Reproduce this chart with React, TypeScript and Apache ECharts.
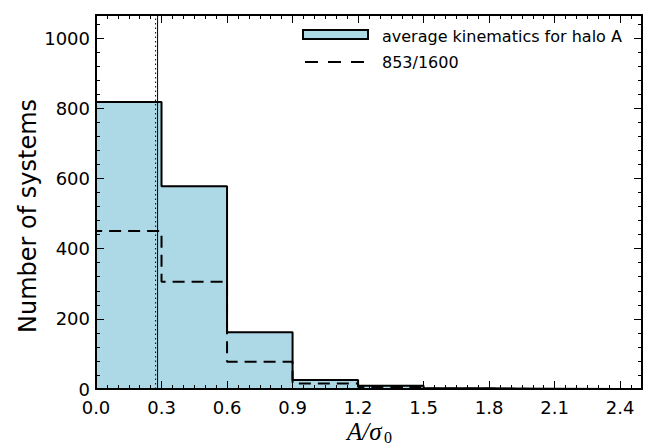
import React, { useEffect, useRef } from "react";
import * as echarts from "echarts";

// ---- data ----
const binEdges = [0, 0.3, 0.6, 0.9, 1.2, 1.5, 1.8, 2.1, 2.4];
const avgCounts = [818, 578, 162, 26, 9, 2, 1, 0];
const subsetCounts = [450, 306, 78, 16, 6, 1, 0, 0];
const solidLineX = 0.282;
const dottedLineX = 0.273;
const xTickLabels = ["0.0", "0.3", "0.6", "0.9", "1.2", "1.5", "1.8", "2.1", "2.4"];
const yTickLabels = ["0", "200", "400", "600", "800", "1000"];
const legendLabels = ["average kinematics for halo A", "853/1600"];
const yTitle = "Number of systems";
const xTitleMain = "A/σ";
const xTitleSub = "0";

const X_MIN = 0;
const X_MAX = 2.5;
const Y_MIN = 0;
const Y_MAX = 1066;

const FONT = "DejaVu Sans";

function stepPoints(edges: number[], counts: number[]): number[][] {
  const pts: number[][] = [[edges[0], 0]];
  for (let i = 0; i < counts.length; i++) {
    pts.push([edges[i], counts[i]]);
    pts.push([edges[i + 1], counts[i]]);
  }
  pts.push([edges[counts.length], 0]);
  return pts;
}

function xAxisDef(position: "bottom" | "top", major: boolean, withLabels: boolean) {
  return {
    type: "value",
    min: X_MIN,
    max: X_MAX,
    position,
    interval: major ? 0.3 : 0.05,
    z: 5,
    axisLine: {
      show: major,
      onZero: false,
      lineStyle: { color: "#000", width: 2 },
    },
    axisTick: {
      show: true,
      inside: true,
      length: major ? 8 : 4,
      lineStyle: { color: "#000", width: 1 },
    },
    splitLine: { show: false },
    axisLabel: withLabels
      ? {
          show: true,
          color: "#000",
          fontSize: 18,
          lineHeight: 16,
          fontFamily: FONT,
          margin: 10,
          showMaxLabel: false,
          formatter: (v: number) => {
            const idx = Math.round(v / 0.3);
            return xTickLabels[idx] ?? v.toFixed(1);
          },
        }
      : { show: false },
  };
}

function yAxisDef(position: "left" | "right", major: boolean, withLabels: boolean) {
  return {
    type: "value",
    min: Y_MIN,
    max: Y_MAX,
    position,
    interval: major ? 200 : 40,
    z: 5,
    axisLine: {
      show: major,
      onZero: false,
      lineStyle: { color: "#000", width: 2 },
    },
    axisTick: {
      show: true,
      inside: true,
      length: major ? 8 : 4,
      lineStyle: { color: "#000", width: 1 },
    },
    splitLine: { show: false },
    axisLabel: withLabels
      ? {
          show: true,
          color: "#000",
          fontSize: 18,
          lineHeight: 16,
          fontFamily: FONT,
          margin: 6,
          showMaxLabel: false,
          formatter: (v: number) => {
            const idx = Math.round(v / 200);
            return yTickLabels[idx] ?? String(v);
          },
        }
      : { show: false },
  };
}

export default function App() {
  const ref = useRef<HTMLDivElement>(null);

  useEffect(() => {
    if (!ref.current) return;
    const chart = echarts.init(ref.current, null, { renderer: "svg" });

    const option: any = {
      animation: false,
      backgroundColor: "#fff",
      grid: {
        left: 96,
        right: 10,
        top: 15,
        bottom: 57,
        outerBoundsMode: "none",
        containLabel: false,
      },
      xAxis: [
        xAxisDef("bottom", true, true),
        xAxisDef("bottom", false, false),
        xAxisDef("top", true, false),
        xAxisDef("top", false, false),
      ],
      yAxis: [
        yAxisDef("left", true, true),
        yAxisDef("left", false, false),
        yAxisDef("right", true, false),
        yAxisDef("right", false, false),
      ],
      series: [
        {
          type: "line",
          name: legendLabels[0],
          xAxisIndex: 0,
          yAxisIndex: 0,
          data: stepPoints(binEdges, avgCounts),
          symbol: "none",
          lineStyle: { color: "#000", width: 2 },
          areaStyle: { color: "#add8e6", opacity: 1 },
          z: 2,
        },
        {
          type: "line",
          name: legendLabels[1],
          xAxisIndex: 0,
          yAxisIndex: 0,
          data: stepPoints(binEdges, subsetCounts),
          symbol: "none",
          lineStyle: { color: "#000", width: 2, type: [12, 7] },
          z: 3,
        },
        {
          type: "line",
          xAxisIndex: 0,
          yAxisIndex: 0,
          data: [
            [dottedLineX, Y_MIN],
            [dottedLineX, Y_MAX],
          ],
          symbol: "none",
          lineStyle: { color: "#000", width: 1, type: [1.5, 3] },
          z: 4,
        },
        {
          type: "line",
          xAxisIndex: 0,
          yAxisIndex: 0,
          data: [
            [solidLineX, Y_MIN],
            [solidLineX, Y_MAX],
          ],
          symbol: "none",
          lineStyle: { color: "#000", width: 1 },
          z: 4,
        },
      ],
      graphic: [
        {
          type: "text",
          x: 28,
          y: 216,
          rotation: Math.PI / 2,
          style: {
            text: yTitle,
            fontFamily: FONT,
            fontSize: 24,
            fill: "#000",
            align: "center",
            verticalAlign: "middle",
          },
          z: 10,
        },
        {
          type: "text",
          x: 347,
          y: 431,
          style: {
            text: xTitleMain,
            fontFamily: "Liberation Serif",
            fontStyle: "italic",
            fontSize: 25,
            fill: "#000",
            align: "left",
            verticalAlign: "middle",
          },
          z: 10,
        },
        {
          type: "text",
          x: 384,
          y: 437,
          style: {
            text: xTitleSub,
            fontFamily: "Liberation Serif",
            fontSize: 16,
            fill: "#000",
            align: "left",
            verticalAlign: "middle",
          },
          z: 10,
        },
        {
          type: "rect",
          shape: { x: 303, y: 30, width: 65, height: 9 },
          style: { fill: "#add8e6", stroke: "#000", lineWidth: 2 },
          z: 10,
        },
        {
          type: "text",
          x: 382,
          y: 36,
          style: {
            text: legendLabels[0],
            fontFamily: FONT,
            fontSize: 16,
            fill: "#000",
            verticalAlign: "middle",
            align: "left",
          },
          z: 10,
        },
        {
          type: "line",
          shape: { x1: 305, y1: 62, x2: 366, y2: 62 },
          style: { stroke: "#000", lineWidth: 2, lineDash: [13, 10] },
          z: 10,
        },
        {
          type: "text",
          x: 382,
          y: 62,
          style: {
            text: legendLabels[1],
            fontFamily: FONT,
            fontSize: 16,
            fill: "#000",
            verticalAlign: "middle",
            align: "left",
          },
          z: 10,
        },
      ],
    };

    chart.setOption(option);
    return () => chart.dispose();
  }, []);

  return (
    <div
      ref={ref}
      style={{ position: "fixed", left: 0, top: 0, width: 652, height: 446 }}
    />
  );
}
